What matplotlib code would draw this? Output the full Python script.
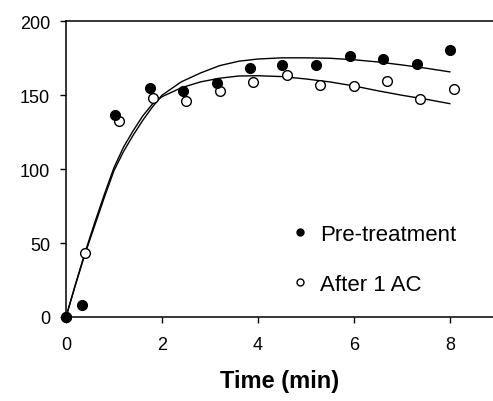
import numpy as np
import matplotlib
matplotlib.use("Agg")
import matplotlib.pyplot as plt
from matplotlib.lines import Line2D

plt.rcParams['font.family'] = ['Liberation Sans', 'DejaVu Sans']

# measured concentrations
t_pre = [0, 0.33, 1.03, 1.76, 2.44, 3.15, 3.83, 4.51, 5.21, 5.92, 6.61, 7.31, 8.0]
y_pre = [0, 8, 136.4, 155, 152.6, 158.5, 168.5, 170.3, 170.3, 176.6, 174.6, 171.4, 180.9]

t_ac = [0, 0.40, 1.11, 1.81, 2.51, 3.21, 3.90, 4.60, 5.29, 6.0, 6.69, 7.38, 8.08]
y_ac = [0, 43.4, 132.8, 148.2, 146.1, 152.6, 159, 163.5, 157.2, 156, 159.4, 147.2, 154]

# fitted curves
t_fit = [0, 0.2, 0.4, 0.6, 0.8, 1.0, 1.2, 1.4, 1.6, 1.8, 2.0, 2.4, 2.8, 3.2,
         3.6, 4.0, 4.5, 5.0, 5.5, 6.0, 6.5, 7.0, 7.5, 8.0]
fit_pre = [0, 22, 43, 62, 81, 99, 112, 123, 133, 142, 150, 159, 165, 170,
           173, 174.5, 175.3, 175.3, 175, 174, 172.5, 170.5, 168.3, 165.8]
fit_ac = [0, 22.5, 44, 64, 83, 101, 115, 126, 136, 144, 149, 155, 159, 161.5,
          163, 163.2, 162.6, 161, 159, 156.3, 153, 150, 147.3, 144.3]

fig = plt.figure(figsize=(4.93, 4.02), dpi=100)
ax = fig.add_axes([0.1339, 0.209, 0.8661, 0.7355])

ax.plot(t_fit, fit_pre, color='black', lw=1.0)
ax.plot(t_fit, fit_ac, color='black', lw=1.0)

ax.plot(t_ac, y_ac, 'o', ms=7, mfc='white', mec='black', mew=1.0,
        clip_on=False, zorder=3)
ax.plot(t_pre, y_pre, 'o', ms=7, mfc='black', mec='black',
        clip_on=False, zorder=4)

ax.set_xlim(0, 8.9)
ax.set_ylim(0, 200)
ax.set_xticks([0, 2, 4, 6, 8])
ax.set_yticks([0, 50, 100, 150, 200])

ax.spines['right'].set_visible(False)
for s in ['left', 'bottom', 'top']:
    ax.spines[s].set_linewidth(1.1)
ax.tick_params(direction='out', length=4.5, width=1.0, labelsize=13)
ax.tick_params(axis='x', pad=9)
ax.tick_params(axis='y', pad=7)

ax.set_xlabel('Time (min)', fontsize=17, fontweight='bold', labelpad=12)

handles = [
    Line2D([], [], ls='none', marker='o', ms=5, mfc='black', mec='black'),
    Line2D([], [], ls='none', marker='o', ms=5, mfc='white', mec='black', mew=1.0),
]
ax.legend(handles, ['Pre-treatment', 'After 1 AC'], loc='upper left',
          bbox_to_anchor=(0.527, 0.315), frameon=False, fontsize=16,
          handlelength=0.8, handletextpad=0.5, labelspacing=1.3,
          borderpad=0, borderaxespad=0)

fig.savefig('out.png', dpi=100)
